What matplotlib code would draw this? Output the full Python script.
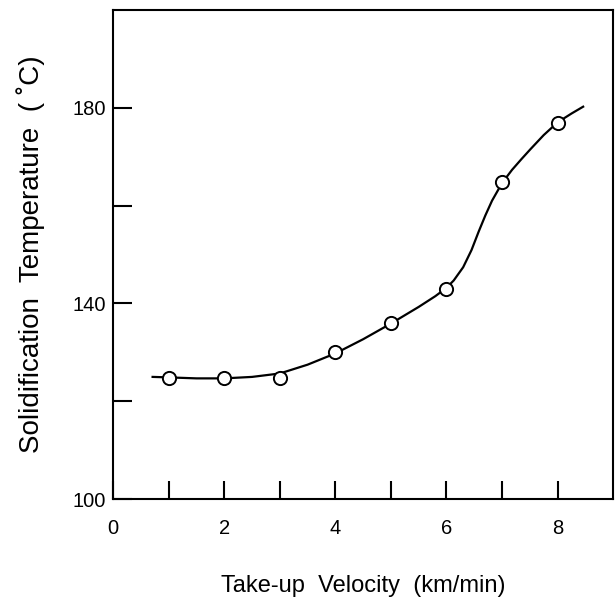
import matplotlib
matplotlib.use("Agg")
import matplotlib.pyplot as plt

# measured points
velocity = [1, 2, 3, 4, 5, 6, 7, 8]
temperature = [124.8, 124.8, 124.7, 130.0, 136.0, 142.9, 164.8, 176.9]

# hand-drawn trend curve
curve_x = [0.71, 1.0, 1.5, 2.0, 2.5, 3.0, 3.5, 4.0, 4.5, 5.0, 5.5, 5.8, 6.0,
           6.13, 6.3, 6.45, 6.58, 6.7, 6.82, 6.93, 7.0, 7.18, 7.35, 7.51,
           7.75, 8.0, 8.25, 8.46]
curve_y = [125.0, 124.9, 124.7, 124.7, 125.0, 125.7, 127.5, 129.8, 132.7,
           135.9, 139.3, 141.5, 143.2, 144.7, 147.4, 150.9, 154.7, 158.0,
           161.0, 163.2, 164.6, 167.3, 169.5, 171.5, 174.4, 177.0, 178.8, 180.2]

x_major = [0, 2, 4, 6, 8]
x_minor = [1, 3, 5, 7]
y_major = [100, 140, 180]
y_minor = [120, 160]

plt.rcParams["font.family"] = ["Liberation Sans", "DejaVu Sans"]

fig = plt.figure(figsize=(6.15, 6.10), dpi=100)
ax = fig.add_axes([0.184, 0.1815, 0.813, 0.8025])

ax.plot(curve_x, curve_y, color="black", linewidth=1.6, zorder=2,
        solid_joinstyle="round")
ax.plot(velocity, temperature, "o", markersize=9.5, markerfacecolor="white",
        markeredgecolor="black", markeredgewidth=1.4, zorder=3)

ax.set_xlim(0, 9)
ax.set_ylim(100, 200)
ax.set_xticks(x_major)
ax.set_xticks(x_minor, minor=True)
ax.set_yticks(y_major)
ax.set_yticks(y_minor, minor=True)

ax.tick_params(axis="x", which="both", direction="in", length=12.7, width=1.5,
               labelsize=14.5, pad=14)
ax.tick_params(axis="y", which="both", direction="in", length=13.7, width=1.5,
               labelsize=14.5, pad=5)
for sp in ax.spines.values():
    sp.set_linewidth(1.5)

ax.set_xlabel("Take-up  Velocity  (km/min)", fontsize=17, labelpad=27)
ax.set_ylabel("Solidification  Temperature  ( \u02daC)", fontsize=20,
              labelpad=20)

fig.savefig("out.png", dpi=100)
